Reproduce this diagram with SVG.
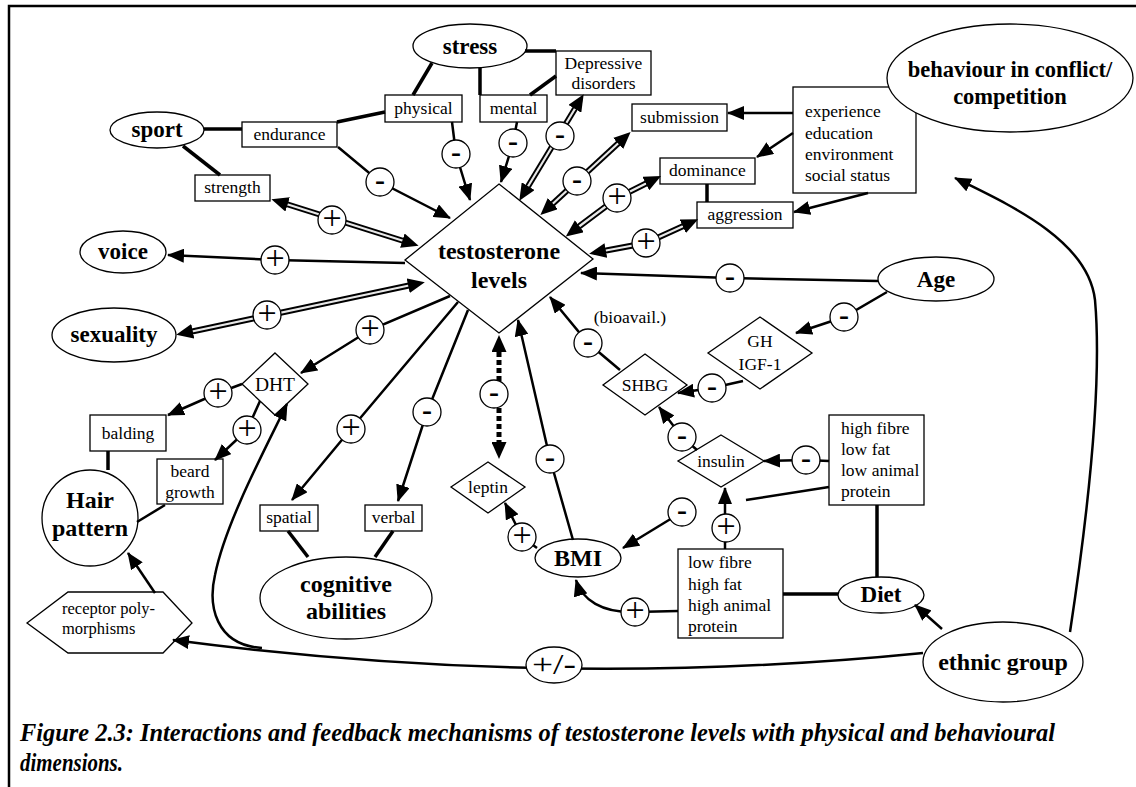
<svg xmlns="http://www.w3.org/2000/svg" width="1136" height="787" viewBox="0 0 1136 787">
<defs>
<style>
text{font-family:"Liberation Serif","Times New Roman",serif;fill:#000}
.s{font-size:17.5px;text-anchor:middle}
.sl{font-size:17.5px}
.b{font-size:23px;font-weight:bold;text-anchor:middle}
.nd{fill:#fff;stroke:#000;stroke-width:1.3}
.ln{fill:none;stroke:#000;stroke-width:2.5}
.th{fill:none;stroke:#000;stroke-width:3.5}
.ar{fill:none;stroke:#000;stroke-width:2.5;marker-end:url(#ah)}
.dbo{fill:none;stroke:#000;stroke-width:6}
.dbi{fill:none;stroke:#e8e8e8;stroke-width:2.2}
.dbm{fill:none;stroke:none;marker-start:url(#ad);marker-end:url(#ad)}
.dsh{fill:none;stroke:#000;stroke-width:5;stroke-dasharray:5 3}
.sc{fill:#fff;stroke:#000;stroke-width:1.3}
.p{font-size:34px;text-anchor:middle}
.m{font-size:30px;font-weight:bold;text-anchor:middle}
.cap{font-size:25px;font-weight:bold;font-style:italic}
.frame{fill:none;stroke:#000;stroke-width:2.5}
</style>
<marker id="ah" markerUnits="userSpaceOnUse" markerWidth="17" markerHeight="14" viewBox="0 0 17 14" refX="16" refY="7" orient="auto-start-reverse"><path d="M0,0 L17,7 L0,14 z" fill="#000"/></marker>
<marker id="ad" markerUnits="userSpaceOnUse" markerWidth="17" markerHeight="15" viewBox="0 0 17 15" refX="8" refY="7.5" orient="auto-start-reverse"><path d="M0,0 L17,7.5 L0,15 z" fill="#000"/></marker>
</defs>
<rect width="1136" height="787" fill="#fff"/>
<path class="frame" d="M9,787 L9,6 L1136,6"/>

<g id="nodes">
<g id="stress"><ellipse class="nd" cx="470" cy="46" rx="57" ry="22"/><text class="b" x="470" y="54">stress</text></g>
<g id="physical"><rect class="nd" x="385" y="95" width="77" height="27"/><text class="s" x="423.5" y="114">physical</text></g>
<g id="mental"><rect class="nd" x="480" y="95" width="67" height="27"/><text class="s" x="513.5" y="114">mental</text></g>
<g id="depressive"><rect class="nd" x="556" y="51" width="95" height="44"/><text class="s" x="603.5" y="69">Depressive</text><text class="s" x="603.5" y="89">disorders</text></g>
<g id="sport"><ellipse class="nd" cx="157" cy="130" rx="47" ry="18"/><text class="b" x="157" y="137">sport</text></g>
<g id="endurance"><rect class="nd" x="242" y="122" width="95" height="25"/><text class="s" x="289.5" y="140">endurance</text></g>
<g id="strength"><rect class="nd" x="195" y="175" width="75" height="26"/><text class="s" x="232.5" y="193">strength</text></g>
<g id="submission"><rect class="nd" x="632" y="104" width="95" height="27"/><text class="s" x="679.5" y="123">submission</text></g>
<g id="dominance"><rect class="nd" x="660" y="158" width="95" height="26"/><text class="s" x="707.5" y="176">dominance</text></g>
<g id="aggression"><rect class="nd" x="697" y="202" width="96" height="26"/><text class="s" x="745" y="220">aggression</text></g>
<g id="experience"><rect class="nd" x="793" y="87" width="123" height="106"/><text class="sl" x="805" y="117">experience</text><text class="sl" x="805" y="139">education</text><text class="sl" x="805" y="160">environment</text><text class="sl" x="805" y="181">social status</text></g>
<g id="behaviour"><ellipse class="nd" cx="1010" cy="78" rx="123" ry="54"/><text class="b" x="1010" y="77" style="font-size:22.5px">behaviour in conflict/</text><text class="b" x="1010" y="104" style="font-size:22.5px">competition</text></g>
<g id="testosterone"><polygon class="nd" points="499,184 593,259 499,333 405,260"/><text class="b" x="499" y="259" style="font-size:24px">testosterone</text><text class="b" x="499" y="288" style="font-size:24px">levels</text></g>
<g id="voice"><ellipse class="nd" cx="123" cy="252" rx="43" ry="21"/><text class="b" x="123" y="259">voice</text></g>
<g id="sexuality"><ellipse class="nd" cx="114" cy="335" rx="62" ry="27"/><text class="b" x="114" y="342">sexuality</text></g>
<g id="age"><ellipse class="nd" cx="936" cy="279" rx="58" ry="22"/><text class="b" x="936" y="287">Age</text></g>
<g id="ghigf"><polygon class="nd" points="760,317 812,353 760,389 708,353"/><text class="s" x="760" y="347">GH</text><text class="s" x="760" y="370">IGF-1</text></g>
<g id="bioavail"><text class="s" x="630" y="323">(bioavail.)</text></g>
<g id="shbg"><polygon class="nd" points="645,354 687,385 645,415 603,385"/><text class="s" x="645" y="391">SHBG</text></g>
<g id="insulin"><polygon class="nd" points="721,435 764,461 721,487 678,461"/><text class="s" x="721" y="467">insulin</text></g>
<g id="highfibre"><rect class="nd" x="829" y="415" width="95" height="90"/><text class="sl" x="841" y="434">high fibre</text><text class="sl" x="841" y="455">low fat</text><text class="sl" x="841" y="476">low animal</text><text class="sl" x="841" y="497">protein</text></g>
<g id="lowfibre"><rect class="nd" x="678" y="549" width="105" height="89"/><text class="sl" x="688" y="568">low fibre</text><text class="sl" x="688" y="590">high fat</text><text class="sl" x="688" y="611">high animal</text><text class="sl" x="688" y="632">protein</text></g>
<g id="diet"><ellipse class="nd" cx="881" cy="595" rx="43" ry="18"/><text class="b" x="881" y="602">Diet</text></g>
<g id="ethnic"><ellipse class="nd" cx="1003" cy="662" rx="80" ry="40"/><text class="b" x="1003" y="670" style="font-size:24px">ethnic group</text></g>
<g id="dht"><polygon class="nd" points="275,353 308,384 275,415 242,384"/><text class="s" x="275" y="391" style="font-size:19.5px">DHT</text></g>
<g id="balding"><rect class="nd" x="90" y="415" width="76" height="36"/><text class="s" x="128" y="439">balding</text></g>
<g id="beard"><rect class="nd" x="157" y="459" width="66" height="45"/><text class="s" x="190" y="477">beard</text><text class="s" x="190" y="498">growth</text></g>
<g id="hair"><circle class="nd" cx="90" cy="518" r="48"/><text class="b" x="90" y="508" style="font-size:24px">Hair</text><text class="b" x="90" y="536" style="font-size:24px">pattern</text></g>
<g id="receptor"><polygon class="nd" points="27,623 68,592 163,592 192,623 163,653 68,653"/><text class="sl" x="62" y="614" style="font-size:16.5px">receptor poly-</text><text class="sl" x="62" y="634" style="font-size:16.5px">morphisms</text></g>
<g id="spatial"><rect class="nd" x="260" y="505" width="58" height="26"/><text class="s" x="289" y="523">spatial</text></g>
<g id="verbal"><rect class="nd" x="365" y="505" width="57" height="26"/><text class="s" x="393.5" y="523">verbal</text></g>
<g id="cognitive"><ellipse class="nd" cx="346" cy="598" rx="86" ry="41"/><text class="b" x="346" y="592" style="font-size:24px">cognitive</text><text class="b" x="346" y="619" style="font-size:24px">abilities</text></g>
<g id="leptin"><polygon class="nd" points="488,462 525,487 488,513 451,487"/><text class="s" x="488" y="493">leptin</text></g>
<g id="bmi"><ellipse class="nd" cx="578" cy="558" rx="43" ry="19"/><text class="b" x="578" y="566" style="font-size:24px">BMI</text></g>
</g>

<g id="connectors">
<path class="th" d="M204,129 L242,129"/>
<path class="th" d="M183,146 L220,175"/>
<path class="th" d="M337,122 L385,112"/>
<path class="th" d="M432,63 L413,95"/>
<path class="th" d="M480,68 L480,95"/>
<path class="th" d="M525,51 L556,51"/>
<path class="th" d="M556,76 L530,95"/>
<path class="th" d="M707,184 L707,202"/>
<path class="th" d="M783,594 L838,594"/>
<path class="th" d="M877,505 L877,577"/>
<path class="th" d="M288,531 L308,557"/>
<path class="th" d="M393,531 L375,557"/>
<path class="th" d="M108,451 L108,470"/>
<path class="ln" d="M165,505 L137,522"/>

<path class="ar" d="M338,147 L380,182 L450,218"/>
<path class="ar" d="M452,122 L456,154 L470,200"/>
<path class="ar" d="M517,122 L513,143 L501,182"/>
<path class="ar" d="M793,113 L728,113"/>
<path class="ar" d="M793,133 L757,157"/>
<path class="ar" d="M868,193 L794,212"/>
<path class="ar" d="M878,281 L730,278 L581,273"/>
<path class="ar" d="M887,292 L844,317 L796,333"/>
<path class="ar" d="M743,381 L712,388 L678,393"/>
<path class="ar" d="M620,370 L588,343 L550,297"/>
<path class="ar" d="M697,450 L682,437 L659,407"/>
<path class="ar" d="M829,461 L806,460 L764,461"/>
<path class="ln" d="M829,487 L746,500"/>
<path class="ar" d="M682,512 L623,548"/>
<path class="ar" d="M725,549 L725,488"/>
<path class="ar" d="M678,611 L635,612 C602,613 582,600 576,580"/>
<path class="ar" d="M942,629 L915,605"/>
<path class="ar" d="M1070,632 C1090,500 1102,380 1095,300 C1088,240 1010,205 955,178"/>
<path class="ar" d="M923,653 Q553,690 173,640"/>
<path class="ar" d="M262,648 C215,645 208,605 215,575 C225,525 262,455 287,404"/>
<path class="ar" d="M450,296 L370,330 L301,373"/>
<path class="ar" d="M242,384 L218,393 L168,415"/>
<path class="ar" d="M260,401 L247,430 L215,460"/>
<path class="ar" d="M155,593 L128,553"/>
<path class="ar" d="M405,263 L275,260 L168,255"/>
<path class="ar" d="M458,302 L351,429 L292,500"/>
<path class="ar" d="M468,310 L427,412 L398,501"/>
<path class="ar" d="M537,548 L522,537 L505,503"/>
<path class="ar" d="M573,540 L550,459 L518,320"/>

<path class="dbo" d="M579,102 L524,193"/><path class="dbi" d="M579,102 L524,193"/><path class="dbm" d="M579,102 L524,193"/>
<path class="dbo" d="M624,138 L547,209"/><path class="dbi" d="M624,138 L547,209"/><path class="dbm" d="M624,138 L547,209"/>
<path class="dbo" d="M653,180 L617,198 L573,231"/><path class="dbi" d="M653,180 L617,198 L573,231"/><path class="dbm" d="M653,180 L617,198 L573,231"/>
<path class="dbo" d="M690,223 L646,243 L598,252"/><path class="dbi" d="M690,223 L646,243 L598,252"/><path class="dbm" d="M690,223 L646,243 L598,252"/>
<path class="dbo" d="M416,284 L185,333"/><path class="dbi" d="M416,284 L185,333"/><path class="dbm" d="M416,284 L185,333"/>
<path class="dbo" d="M410,243 L280,202"/><path class="dbi" d="M410,243 L280,202"/><path class="dbm" d="M410,243 L280,202"/>
<path class="dsh" d="M499,344 L499,450"/><path class="dbm" d="M499,344 L499,450"/>

<g id="signs">
<circle class="sc" cx="380" cy="182" r="14"/><text class="m" x="380" y="190">-</text>
<circle class="sc" cx="456" cy="154" r="14"/><text class="m" x="456" y="162">-</text>
<circle class="sc" cx="513" cy="143" r="14"/><text class="m" x="513" y="151">-</text>
<circle class="sc" cx="560" cy="136" r="14"/><text class="m" x="560" y="144">-</text>
<circle class="sc" cx="577" cy="181" r="14"/><text class="m" x="577" y="189">-</text>
<circle class="sc" cx="617" cy="198" r="14"/><text class="p" x="617" y="207">+</text>
<circle class="sc" cx="646" cy="243" r="14"/><text class="p" x="646" y="252">+</text>
<circle class="sc" cx="332" cy="220" r="14"/><text class="p" x="332" y="229">+</text>
<circle class="sc" cx="275" cy="260" r="14"/><text class="p" x="275" y="269">+</text>
<circle class="sc" cx="267" cy="315" r="14"/><text class="p" x="267" y="324">+</text>
<circle class="sc" cx="730" cy="278" r="14"/><text class="m" x="730" y="286">-</text>
<circle class="sc" cx="844" cy="317" r="14"/><text class="m" x="844" y="325">-</text>
<circle class="sc" cx="712" cy="388" r="14"/><text class="m" x="712" y="396">-</text>
<circle class="sc" cx="588" cy="343" r="14"/><text class="m" x="588" y="351">-</text>
<circle class="sc" cx="682" cy="437" r="14"/><text class="m" x="682" y="445">-</text>
<circle class="sc" cx="806" cy="460" r="14"/><text class="m" x="806" y="468">-</text>
<circle class="sc" cx="682" cy="512" r="14"/><text class="m" x="682" y="520">-</text>
<circle class="sc" cx="726" cy="528" r="14"/><text class="p" x="726" y="537">+</text>
<circle class="sc" cx="635" cy="612" r="14"/><text class="p" x="635" y="621">+</text>
<circle class="sc" cx="370" cy="330" r="14"/><text class="p" x="370" y="339">+</text>
<circle class="sc" cx="218" cy="393" r="14"/><text class="p" x="218" y="402">+</text>
<circle class="sc" cx="247" cy="430" r="14"/><text class="p" x="247" y="439">+</text>
<circle class="sc" cx="351" cy="429" r="14"/><text class="p" x="351" y="438">+</text>
<circle class="sc" cx="427" cy="412" r="14"/><text class="m" x="427" y="420">-</text>
<circle class="sc" cx="494" cy="394" r="14"/><text class="m" x="494" y="402">-</text>
<circle class="sc" cx="522" cy="537" r="14"/><text class="p" x="522" y="546">+</text>
<circle class="sc" cx="550" cy="459" r="14"/><text class="m" x="550" y="467">-</text>
<ellipse class="sc" cx="554" cy="665" rx="28" ry="18"/><text x="554" y="674" style="font-size:30px;text-anchor:middle" textLength="44" lengthAdjust="spacingAndGlyphs">+/-</text>
</g>
</g>

<g id="caption">
<text class="cap" x="20" y="741" textLength="1035" lengthAdjust="spacingAndGlyphs">Figure 2.3: Interactions and feedback mechanisms of testosterone levels with physical and behavioural</text>
<text class="cap" x="20" y="771" textLength="103" lengthAdjust="spacingAndGlyphs">dimensions.</text>
</g>
</svg>
